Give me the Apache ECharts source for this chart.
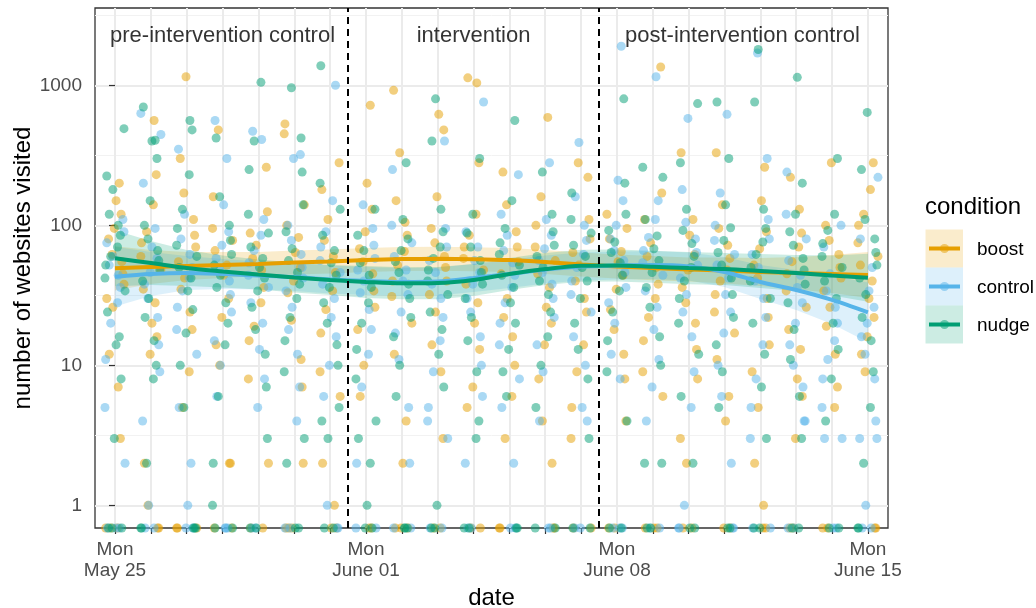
<!DOCTYPE html>
<html>
<head>
<meta charset="utf-8">
<script src="https://cdn.jsdelivr.net/npm/echarts@6/dist/echarts.min.js"></script>
<style>html,body{margin:0;padding:0;background:#fff}#c{width:1036px;height:608px}</style>
</head>
<body>
<div id="c"></div>
<script>
// ---------- data ----------
const DAYS = [0,1,2,3,4,5,6,7,8,9,10,11,12,13,14,15,16,17,18,19,20,21];
const X_LABEL_DAYS = [0, 7, 14, 21];
const X_LABELS = ['Mon\nMay 25', 'Mon\nJune 01', 'Mon\nJune 08', 'Mon\nJune 15'];
const Y_TICKS = [1, 10, 100, 1000];
const Y_TICK_LABELS = ['1', '10', '100', '1000'];
const Y_MINOR = [3.1623, 31.623, 316.23, 3162.3];
const CONDITIONS = ['boost', 'control', 'nudge'];
const COLORS = ['#E69F00', '#56B4E9', '#009E73'];
const DIVIDERS = [6.5, 13.5];
const PHASES = ['pre-intervention control', 'intervention', 'post-intervention control'];
const PHASE_X = [3, 10, 17.5];
const PHASE_Y = 2250;
const X_MIN = -0.558, X_MAX = 21.56, Y_MIN = 0.689, Y_MAX = 3565;
const JITTER = [-0.26, 0.15, -0.06, 0.22, -0.18, 0.03, 0.28, -0.12, 0.09, -0.23, 0.19, -0.02, 0.12, -0.28, 0.07, -0.16, 0.25, -0.08, 0.17, -0.21];

// websites visited per participant and day (0 = none)
const boost = [
  [0,0,0,3,7,12,26,30,38,45,55,62,80,95,120,150,200],
  [0,0,1,2,12,16,20,28,35,48,60,75,90,140,230,560],
  [0,0,0,5,9,18,24,35,42,55,70,85,110,170,300,1150],
  [0,0,2,2,10,14,22,30,44,52,66,78,95,160,480],
  [0,0,2,8,15,19,28,36,48,58,72,88,125,260],
  [0,0,0,2,7,11,21,33,40,50,64,82,100,140,450,530],
  [0,0,1,2,6,9,17,25,34,46,60,78,110,180,280],
  [0,0,6,10,18,26,34,45,55,68,90,130,200,720],
  [0,0,0,2,4,12,20,31,40,52,65,85,105,150,330,920],
  [0,0,3,9,14,24,32,40,50,60,75,95,160,480,620],
  [0,0,5,7,13,20,28,38,48,58,70,85,120,280,1040,1130],
  [0,0,3,6,10,16,22,30,45,55,70,90,140,240],
  [0,0,2,4,8,14,20,26,36,45,56,70,100,160,590],
  [0,0,3,5,9,14,24,30,40,52,64,80,110,220,280],
  [0,0,4,8,12,18,25,35,44,55,65,80,95,120],
  [0,0,0,6,9,15,22,30,38,50,60,75,110,170,1350],
  [0,0,2,3,8,13,20,28,36,48,62,85,110,330],
  [0,0,4,6,11,17,24,32,40,48,58,72,95,140,330],
  [0,0,1,2,5,9,14,22,30,42,52,68,90,150,260],
  [0,0,3,6,8,13,18,26,34,45,55,70,88,130,220],
  [0,0,5,7,12,19,26,34,42,50,62,78,100,280],
  [0,0,9,12,16,22,30,40,52,60,75,100,120,180,280]
];
const control = [
  [0,0,0,2,5,11,20,28,36,44,52,60,75,90,110],
  [0,0,1,4,9,14,22,30,38,46,58,70,95,200,445,630],
  [0,0,1,2,5,12,18,26,34,42,50,62,80,120,350],
  [0,0,0,6,10,15,24,32,40,48,58,72,90,140,300,560],
  [0,0,5,8,13,20,28,36,44,54,66,85,110,410,470],
  [0,0,4,7,12,18,26,34,42,50,62,78,100,300,320],
  [0,0,1,6,10,16,22,30,38,46,56,70,90,150,1000],
  [0,0,2,7,12,18,25,33,40,48,58,72,95,140],
  [0,0,2,5,11,17,24,32,40,48,60,75,100,250],
  [0,0,3,4,5,9,15,22,30,38,46,56,70,95,400],
  [0,0,2,6,10,16,24,30,38,46,56,70,90,760],
  [0,0,2,5,8,14,20,28,36,44,54,66,85,120,230],
  [0,0,4,9,14,22,30,38,46,56,68,85,110,280],
  [0,0,4,5,10,16,24,32,40,50,62,78,100,160,390],
  [0,0,0,8,12,20,28,36,46,56,66,80,100,150,210,1900],
  [0,0,4,7,11,18,26,34,44,54,66,82,110,150,1150],
  [0,0,1,5,9,16,24,32,42,52,64,80,105,180,580],
  [0,0,2,6,10,17,24,32,42,52,62,78,100,170,620],
  [0,0,3,5,8,14,22,30,40,50,62,80,110,300,1700],
  [0,0,4,4,7,10,14,20,28,36,44,56,80,120,240],
  [0,0,3,3,5,8,11,15,20,26,34,45,70,100],
  [0,0,1,3,3,4,8,12,16,20,26,34,50,80,220]
];
const nudge = [
  [0,0,0,3,8,14,16,24,34,42,52,60,70,85,100,120,180,225,490],
  [0,0,2,8,10,15,22,30,40,48,56,66,80,100,150,300,400,405,700],
  [0,0,0,5,10,17,25,34,42,50,60,72,95,130,230,480,560],
  [0,0,1,2,6,14,20,28,36,44,52,62,78,100,160,420],
  [0,0,3,7,12,18,26,34,42,50,58,70,88,120,250,400,1050],
  [0,0,2,3,9,15,22,30,38,46,56,68,90,140,240,420,960],
  [0,0,3,4,5,10,14,20,28,36,44,54,66,85,130,200,1380],
  [0,0,1,2,3,4,8,13,20,28,36,44,54,66,85,130],
  [0,0,0,6,10,16,22,30,38,46,55,66,80,110,280],
  [0,0,1,7,12,18,24,32,40,48,58,70,90,130,400,800],
  [0,0,3,4,9,15,22,30,38,46,56,70,88,120,300],
  [0,0,6,9,13,20,28,36,44,52,62,75,95,150,560],
  [0,0,5,10,16,24,32,40,50,60,72,90,120,240],
  [0,0,3,8,13,20,30,40,50,60,72,88,110,170],
  [0,0,4,9,15,24,34,44,54,64,76,92,120,200,800],
  [0,0,2,2,10,16,26,36,46,56,68,84,110,220,260],
  [0,0,2,6,12,20,30,40,50,60,74,92,130,280,740],
  [0,0,5,9,14,22,32,42,52,64,78,96,140,300,760],
  [0,0,3,7,12,20,30,40,50,62,76,95,130,760,1800],
  [0,0,3,6,11,18,28,38,48,58,72,90,120,200,1140],
  [0,0,4,8,13,20,30,40,50,60,74,92,120,300],
  [0,0,2,5,9,15,22,32,42,52,64,80,110,250,640]
];

// smoothed trend (loess) and 95% band per day
const boostFit = [49.3,50.4,51.2,52.0,52.9,54.2,55.1,56.5,57.4,57.6,57.3,56.5,54.7,52.5,50.8,49.5,48.3,47.6,46.4,45.6,44.9,44.2];
const boostLo  = [34.3,38.1,40.7,42.0,43.4,44.5,45.2,46.4,47.1,47.3,47.0,46.4,44.9,43.1,41.7,40.6,39.7,38.4,36.9,35.0,32.8,30.3];
const boostHi  = [70.8,66.7,64.5,64.4,64.4,66.0,67.1,68.8,69.9,70.2,69.8,68.8,66.6,63.9,61.9,60.3,58.8,58.9,58.4,59.3,61.4,64.5];
const controlFit = [43.0,44.9,45.6,44.9,43.8,42.7,41.0,40.0,39.4,39.7,42.0,44.9,48.3,50.8,51.6,52.0,50.8,46.4,39.4,34.5,29.3,23.9];
const controlLo  = [26.3,31.3,34.5,35.1,34.8,33.9,32.6,31.8,31.3,31.5,33.4,35.7,38.4,40.3,41.0,41.3,40.3,36.3,29.8,24.8,19.7,14.6];
const controlHi  = [70.4,64.5,60.3,57.5,55.1,53.8,51.6,50.4,49.6,50.0,52.9,56.5,60.8,64.0,65.0,65.5,64.0,59.4,52.1,47.9,43.5,39.1];
const nudgeFit = [58.1,53.8,49.5,46.8,44.5,42.4,40.7,39.4,38.5,38.7,40.7,44.9,48.7,51.5,51.7,50.6,49.5,48.7,47.2,45.6,43.8,42.2];
const nudgeLo  = [36.7,37.5,36.8,36.0,34.8,33.1,31.8,30.3,29.6,29.7,31.3,34.5,37.4,39.6,39.7,38.9,38.0,37.4,35.7,33.9,31.5,28.4];
const nudgeHi  = [92.1,77.3,66.6,60.9,57.0,54.3,52.1,51.3,50.1,50.3,53.0,58.4,63.4,67.0,67.3,65.8,64.4,63.4,62.4,61.3,60.8,62.6];

// ---------- chart ----------
const FONT = '"Liberation Sans", Arial, sans-serif';
const POINTS = [boost, control, nudge];
const FITS = [boostFit, controlFit, nudgeFit];
const LOS = [boostLo, controlLo, nudgeLo];
const HIS = [boostHi, controlHi, nudgeHi];

const series = [];
POINTS.forEach((cols, ci) => {
  const data = [];
  cols.forEach((vals, di) => vals.forEach((v, k) => {
    const j = JITTER[(k * 7 + ci * 5 + di * 3) % JITTER.length];
    data.push([DAYS[di] + j, v > 0 ? v : Y_MIN]);
  }));
  series.push({
    type: 'scatter', name: CONDITIONS[ci], data, symbolSize: 9, clip: true, silent: true,
    itemStyle: { color: COLORS[ci], opacity: 0.5 }
  });
});

FITS.forEach((fit, ci) => {
  const lo = LOS[ci], hi = HIS[ci];
  series.push({
    type: 'custom', silent: true, clip: true,
    data: DAYS.map((d, i) => [d, lo[i], hi[i]]),
    renderItem: (params, api) => {
      if (params.dataIndex !== 0) return null;
      const top = DAYS.map((d, i) => api.coord([d, hi[i]]));
      const bot = DAYS.map((d, i) => api.coord([d, lo[i]])).reverse();
      return { type: 'polygon', shape: { points: top.concat(bot) }, style: { fill: COLORS[ci], opacity: 0.2 } };
    }
  });
  series.push({
    type: 'line', silent: true, showSymbol: false, smooth: 0.3,
    data: DAYS.map((d, i) => [d, fit[i]]),
    lineStyle: { color: COLORS[ci], width: 4 }, itemStyle: { color: COLORS[ci] }
  });
});

series.push({
  type: 'scatter', silent: true, symbolSize: 1,
  itemStyle: { color: 'transparent' },
  data: PHASE_X.map((x, i) => ({ value: [x, PHASE_Y], name: PHASES[i] })),
  label: { show: true, position: 'inside', formatter: p => p.name, fontSize: 22, color: '#000', fontFamily: FONT },
  markLine: {
    silent: true, symbol: ['none', 'none'], label: { show: false },
    lineStyle: { color: '#000', width: 2, type: [7, 5] },
    data: DIVIDERS.map(x => ({ xAxis: x }))
  }
});

const graphic = [{
  type: 'text', x: 925, y: 207.5,
  style: { text: 'condition', font: '24px ' + FONT, fill: '#000', verticalAlign: 'middle' }
}];
CONDITIONS.forEach((c, i) => {
  const y0 = 229.5 + i * 38;
  graphic.push({ type: 'rect', shape: { x: 925.5, y: y0, width: 37.5, height: 38 }, style: { fill: COLORS[i], opacity: 0.2 } });
  graphic.push({ type: 'line', shape: { x1: 929, y1: y0 + 19, x2: 960, y2: y0 + 19 }, style: { stroke: COLORS[i], lineWidth: 4 } });
  graphic.push({ type: 'circle', shape: { cx: 944.5, cy: y0 + 19, r: 4.5 }, style: { fill: COLORS[i], opacity: 0.5 } });
  graphic.push({ type: 'text', x: 977, y: y0 + 20, style: { text: c, font: '19px ' + FONT, fill: '#000', verticalAlign: 'middle' } });
});

const chart = echarts.init(document.getElementById('c'), null, { renderer: 'canvas' });
chart.setOption({
  animation: false,
  backgroundColor: '#fff',
  textStyle: { fontFamily: FONT },
  grid: { left: 95, right: 148, top: 8, bottom: 80, show: true, borderColor: '#333', borderWidth: 1.3, backgroundColor: '#fff', containLabel: false, outerBoundsMode: 'none' },
  xAxis: {
    type: 'value', min: X_MIN, max: X_MAX,
    axisLine: { show: false },
    axisTick: { show: true, length: 6, customValues: DAYS, lineStyle: { color: '#333', width: 1.2 } },
    axisLabel: {
      customValues: X_LABEL_DAYS, fontSize: 19, color: '#4D4D4D', lineHeight: 21, margin: 11, fontFamily: FONT,
      formatter: v => X_LABELS[X_LABEL_DAYS.indexOf(Math.round(v))]
    },
    splitLine: { show: true, lineStyle: { color: '#EBEBEB', width: 2 } },
    name: 'date', nameLocation: 'middle', nameGap: 56,
    nameTextStyle: { fontSize: 24, color: '#000', fontFamily: FONT }
  },
  yAxis: [{
    type: 'log', logBase: 10, min: Y_MIN, max: Y_MAX, position: 'left',
    axisLine: { show: false },
    axisTick: { show: true, length: 6, customValues: Y_TICKS, lineStyle: { color: '#333', width: 1.2 } },
    axisLabel: {
      customValues: Y_TICKS, fontSize: 19, color: '#4D4D4D', margin: 13, fontFamily: FONT,
      formatter: v => Y_TICK_LABELS[Y_TICKS.findIndex(t => Math.abs(Math.log10(t) - Math.log10(v)) < 1e-6)]
    },
    splitLine: { show: true, lineStyle: { color: '#EBEBEB', width: 2 } },
    name: 'number of websites visited', nameLocation: 'middle', nameGap: 60, nameMoveOverlap: false,
    nameTextStyle: { fontSize: 24, color: '#000', fontFamily: FONT }
  }, {
    type: 'log', logBase: 10, min: Y_MIN, max: Y_MAX, position: 'left',
    axisLine: { show: false },
    axisTick: { show: false, customValues: Y_MINOR },
    axisLabel: { show: false, customValues: Y_MINOR },
    splitLine: { show: true, lineStyle: { color: '#F2F2F2', width: 1 } }
  }],
  series,
  graphic
});
</script>
</body>
</html>
